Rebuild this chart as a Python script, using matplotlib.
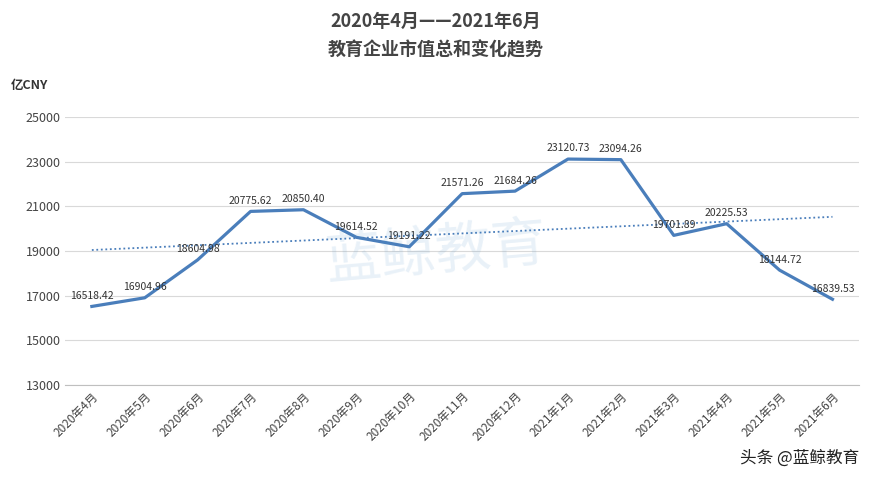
import numpy as np
import matplotlib.pyplot as plt

plt.rcParams['font.family'] = ['Noto Sans CJK SC', 'DejaVu Sans']

months = ["2020年4月", "2020年5月", "2020年6月", "2020年7月", "2020年8月", "2020年9月",
          "2020年10月", "2020年11月", "2020年12月", "2021年1月", "2021年2月", "2021年3月",
          "2021年4月", "2021年5月", "2021年6月"]
values = [16518.42, 16904.96, 18604.98, 20775.62, 20850.40, 19614.52, 19191.22,
          21571.26, 21684.26, 23120.73, 23094.26, 19701.89, 20225.53, 18144.72, 16839.53]

x = np.arange(len(months))
fig = plt.figure(figsize=(8.72, 4.8), dpi=100)
ax = fig.add_axes([0.075, 0.198, 0.91, 0.558])

ax.plot(x, values, color="#4a7ebb", lw=2.3, zorder=3)
k, b = np.polyfit(x, values, 1)
ax.plot(x, k * x + b, color="#4a7ebb", lw=1.3, ls=(0, (1, 1.5)), zorder=2)

for xi, v in zip(x, values):
    ax.text(xi, v + 250, f"{v:.2f}", ha="center", va="bottom", fontsize=7.5, color="#333333")

ax.set_xlim(-0.5, len(months) - 0.5)
ax.set_ylim(13000, 25000)
ax.set_yticks(range(13000, 25001, 2000))
ax.set_xticks(x)
ax.set_xticklabels(months, rotation=45, ha="right", rotation_mode="anchor", fontsize=8.5, color="#444444")
ax.tick_params(axis="y", labelsize=9, colors="#444444", length=0)
ax.tick_params(axis="x", length=0)
ax.grid(axis="y", color="#d9d9d9", lw=0.8)
for s in ["top", "right", "left"]:
    ax.spines[s].set_visible(False)
ax.spines["bottom"].set_color("#bfbfbf")

fig.text(0.5, 0.955, "2020年4月——2021年6月", ha="center", va="center",
         fontsize=13, fontweight="bold", color="#444444")
fig.text(0.5, 0.895, "教育企业市值总和变化趋势", ha="center", va="center",
         fontsize=13, fontweight="bold", color="#444444")
fig.text(0.012, 0.815, "亿CNY", fontsize=9, fontweight="bold", color="#333333")
fig.text(0.5, 0.47, "蓝鲸教育", ha="center", va="center", fontsize=40,
         color="#4a90c8", alpha=0.12, rotation=5)
fig.text(0.985, 0.045, "头条 @蓝鲸教育", ha="right", va="center", fontsize=12, color="#222222")

fig.savefig("out.png", dpi=100, facecolor="white")
